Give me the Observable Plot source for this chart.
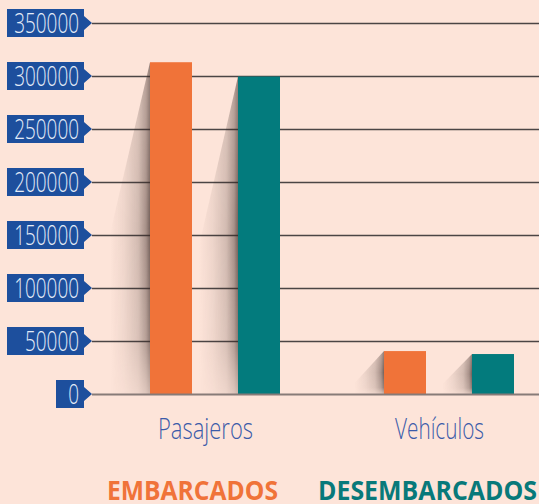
<!DOCTYPE html>
<html>
<head>
<meta charset="utf-8">
<script src="https://cdn.jsdelivr.net/npm/d3@7"></script>
<script src="https://cdn.jsdelivr.net/npm/@observablehq/plot@0.6"></script>
<style>
  html, body { margin: 0; padding: 0; background: #fde4d9; }
  #chart { width: 539px; height: 504px; overflow: hidden; }
</style>
</head>
<body>
<div id="chart"></div>
<script>
const categories = ["Pasajeros", "Vehículos"];
const series = ["Embarcados", "Desembarcados"];
const embarcados = [313000, 40500];
const desembarcados = [299500, 37700];
const yTicks = [0, 50000, 100000, 150000, 200000, 250000, 300000, 350000];
const legendLabels = ["EMBARCADOS", "DESEMBARCADOS"];

const ORANGE = "#f07339";
const TEAL = "#037b7d";
const BAR_W = 43;      // bar width in px
const GROUP_BAND = 131; // band width holding both bars

const dataE = categories.map((c, i) => ({cat: c, serie: series[0], value: embarcados[i]}));
const dataD = categories.map((c, i) => ({cat: c, serie: series[1], value: desembarcados[i]}));

const chart = Plot.plot({
  width: 539,
  height: 504,
  marginLeft: 92,
  marginRight: 0,
  marginTop: 23,
  marginBottom: 110,
  style: {background: "transparent", fontFamily: "'Open Sans', sans-serif"},
  y: {domain: [0, 350000], axis: null},
  x: {domain: categories, paddingInner: 0.4426, paddingOuter: 0.1724, align: 0.704, label: null, axis: null},
  color: {domain: series, range: [ORANGE, TEAL]},
  marks: [
    Plot.ruleY(yTicks.filter(t => t > 0), {stroke: "#4b4545", strokeWidth: 1.3}),
    Plot.barY(dataE, {x: "cat", y: "value", fill: "serie", insetRight: GROUP_BAND - BAR_W}),
    Plot.barY(dataD, {x: "cat", y: "value", fill: "serie", insetLeft: GROUP_BAND - BAR_W}),
    Plot.ruleY([0], {stroke: "#877b78", strokeWidth: 2.2}),
    Plot.axisX({tickSize: 0, tickPadding: 23, fontSize: 30, label: null, dx: -10})
  ]
});

document.getElementById("chart").appendChild(chart);

const svg = d3.select(chart);
const yS = chart.scale("y");
const xS = chart.scale("x");

// defs for shadows
const defs = svg.append("defs");
const hg = defs.append("linearGradient").attr("id", "shadowH").attr("x1", 0).attr("x2", 1).attr("y1", 0).attr("y2", 0);
[[0, 0], [0.35, 0.08], [0.7, 0.22], [0.9, 0.45], [1, 0.7]].forEach(([o, a]) =>
  hg.append("stop").attr("offset", o).attr("stop-color", "#3a2824").attr("stop-opacity", a));
const vg = defs.append("linearGradient").attr("id", "shadowV").attr("x1", 0).attr("x2", 0).attr("y1", 0).attr("y2", 1);
[[0, 0.75], [0.5, 1], [0.85, 0.8], [1, 0.35]].forEach(([o, a]) =>
  vg.append("stop").attr("offset", o).attr("stop-color", "#fff").attr("stop-opacity", a));
const mask = defs.append("mask").attr("id", "shadowMask").attr("maskContentUnits", "objectBoundingBox");
mask.append("rect").attr("x", 0).attr("y", 0).attr("width", 1).attr("height", 1).attr("fill", "url(#shadowV)");

// shadows, inserted under bars
const barsNode = svg.select("[aria-label='bar']").node();
const shadowG = d3.select(chart.insertBefore(document.createElementNS("http://www.w3.org/2000/svg", "g"), barsNode));
[...dataE.map(d => [d, 0]), ...dataD.map(d => [d, GROUP_BAND - BAR_W])].forEach(([d, off]) => {
  const left = xS.apply(d.cat) + off;
  const top = yS.apply(d.value);
  const bottom = yS.apply(0);
  const h = bottom - top;
  const w = 28 + h * 0.035;
  const knee = top + Math.min(h * 0.75, 170);
  shadowG.append("path")
    .attr("d", `M${left},${top}L${left - w},${knee}L${left - w},${bottom}L${left},${bottom}Z`)
    .attr("fill", "url(#shadowH)")
    .attr("mask", "url(#shadowMask)");
});

// y axis labels in blue arrow boxes
const yAxisG = svg.append("g").attr("aria-label", "y-axis tick labels");
yTicks.forEach(t => {
  const cy = yS.apply(t);
  const label = String(t);
  const bwid = label.length === 1 ? 28 : 77;
  const right = 84;
  yAxisG.append("path")
    .attr("d", `M${right - bwid},${cy - 14}L${right},${cy - 14}L${right},${cy - 7}L92,${cy}L${right},${cy + 7}L${right},${cy + 14}L${right - bwid},${cy + 14}Z`)
    .attr("fill", "#1d4f9d");
  yAxisG.append("text")
    .attr("x", 79).attr("y", cy + 10)
    .attr("text-anchor", "end")
    .attr("font-family", "'Open Sans', sans-serif")
    .attr("font-weight", 300)
    .attr("font-size", 28)
    .attr("fill", "#e4ecf8")
    .attr("textLength", label.length * 10.8)
    .attr("lengthAdjust", "spacingAndGlyphs")
    .text(label);
});

// style x axis labels
svg.selectAll("[aria-label='x-axis tick label'] text")
  .attr("fill", "#3b5ba9")
  .attr("font-weight", 300)
  .attr("lengthAdjust", "spacingAndGlyphs")
  .attr("textLength", function() { return this.textContent === "Pasajeros" ? 95 : 89; });

// legend
const legendG = svg.append("g").attr("aria-label", "legend");
[[legendLabels[0], 107, 171, ORANGE], [legendLabels[1], 318, 219, "#08797a"]].forEach(([txt, x, len, col]) => {
  legendG.append("text")
    .attr("x", x).attr("y", 500)
    .attr("text-anchor", "start")
    .attr("font-family", "'Open Sans', sans-serif")
    .attr("font-weight", 700)
    .attr("font-size", 26)
    .attr("fill", col)
    .attr("textLength", len)
    .attr("lengthAdjust", "spacingAndGlyphs")
    .text(txt);
});
</script>
</body>
</html>
